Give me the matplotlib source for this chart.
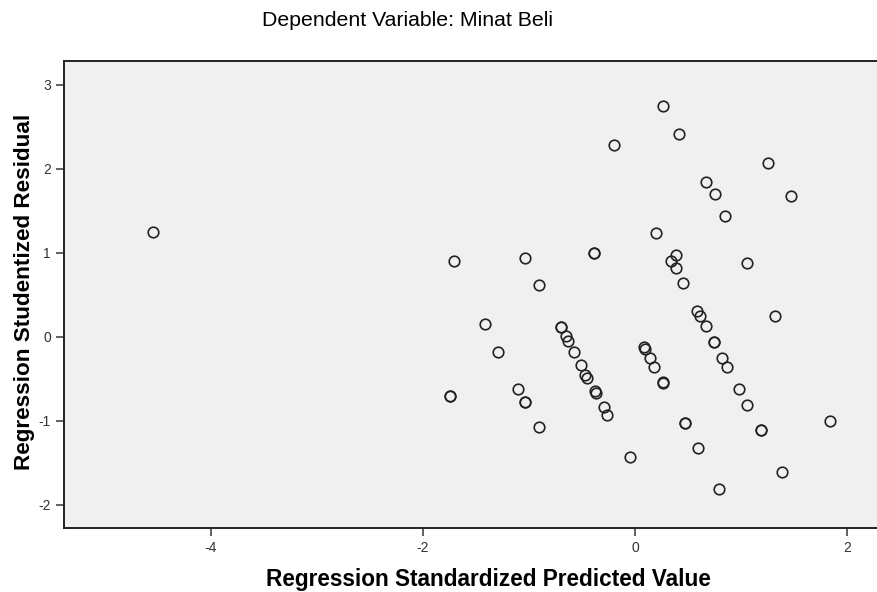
import matplotlib
matplotlib.use("Agg")
import matplotlib.pyplot as plt

plt.rcParams['font.family'] = ['Liberation Sans', 'DejaVu Sans']
plt.rcParams['axes.unicode_minus'] = False

# Regression Standardized Predicted Value
pred = [-4.55, -1.71, -1.42, -1.29, -1.75, -1.75, -1.10, -1.035, -1.035, -0.91,
        -1.037, -0.908, -0.70, -0.70, -0.654, -0.635, -0.572, -0.509, -0.469, -0.45,
        -0.377, -0.37, -0.296, -0.261, -0.384, -0.384, -0.195, -0.047, 0.082, 0.09,
        0.142, 0.182, 0.261, 0.264, 0.469, 0.469, 0.201, 0.264, 0.418, 0.384,
        0.337, 0.384, 0.453, 0.588, 0.613, 0.667, 0.742, 0.742, 0.821, 0.868,
        0.978, 1.054, 1.185, 1.185, 0.591, 0.792, 1.387, 1.836, 1.324, 1.058,
        0.673, 0.758, 0.847, 1.258, 1.47]

# Regression Studentized Residual
resid = [1.24, 0.90, 0.15, -0.185, -0.71, -0.71, -0.63, -0.78, -0.78, -1.077,
         0.93, 0.61, 0.11, 0.11, 0.01, -0.05, -0.19, -0.343, -0.462, -0.49,
         -0.645, -0.67, -0.84, -0.94, 0.99, 0.99, 2.28, -1.43, -0.125, -0.149,
         -0.256, -0.36, -0.538, -0.55, -1.033, -1.033, 1.236, 2.75, 2.41, 0.974,
         0.90, 0.81, 0.64, 0.307, 0.244, 0.125, -0.06, -0.06, -0.25, -0.36,
         -0.63, -0.815, -1.117, -1.117, -1.33, -1.82, -1.61, -1.006, 0.24, 0.88,
         1.835, 1.70, 1.43, 2.07, 1.67]

x_ticks = [-4, -2, 0, 2]
y_ticks = [-2, -1, 0, 1, 2, 3]

fig = plt.figure(figsize=(8.78, 5.92), dpi=100)
ax = fig.add_axes([64 / 878, 1 - 527.7 / 592, 1 - 64 / 878, (527.7 - 61) / 592])
ax.set_facecolor('#f0f0f0')

ax.plot(pred, resid, 'o', markersize=7.6, markerfacecolor='none',
        markeredgecolor='#222222', markeredgewidth=1.2, linestyle='None')

ax.set_xlim(-5.387, 2.292)
ax.set_ylim(-2.276, 3.28)
ax.set_xticks(x_ticks)
ax.set_yticks(y_ticks)
ax.tick_params(direction='out', length=6, width=1.2, color='#444444',
               labelsize=10, labelcolor='#333333')

for s in ['left', 'bottom', 'top']:
    ax.spines[s].set_linewidth(1.4)
    ax.spines[s].set_color('#222222')
ax.spines['right'].set_visible(False)

ax.set_xlabel('Regression Standardized Predicted Value', fontsize=16.3,
              fontweight='bold')
ax.set_ylabel('Regression Studentized Residual', fontsize=16.2,
              fontweight='bold')
ax.xaxis.set_label_coords(0.521, -0.087)
ax.yaxis.set_label_coords(-0.036, 0.506)

fig.text(408 / 878, 1 - 20 / 592, 'Dependent Variable: Minat Beli',
         ha='center', va='center', fontsize=15.3)

fig.savefig('out.png', dpi=100)
